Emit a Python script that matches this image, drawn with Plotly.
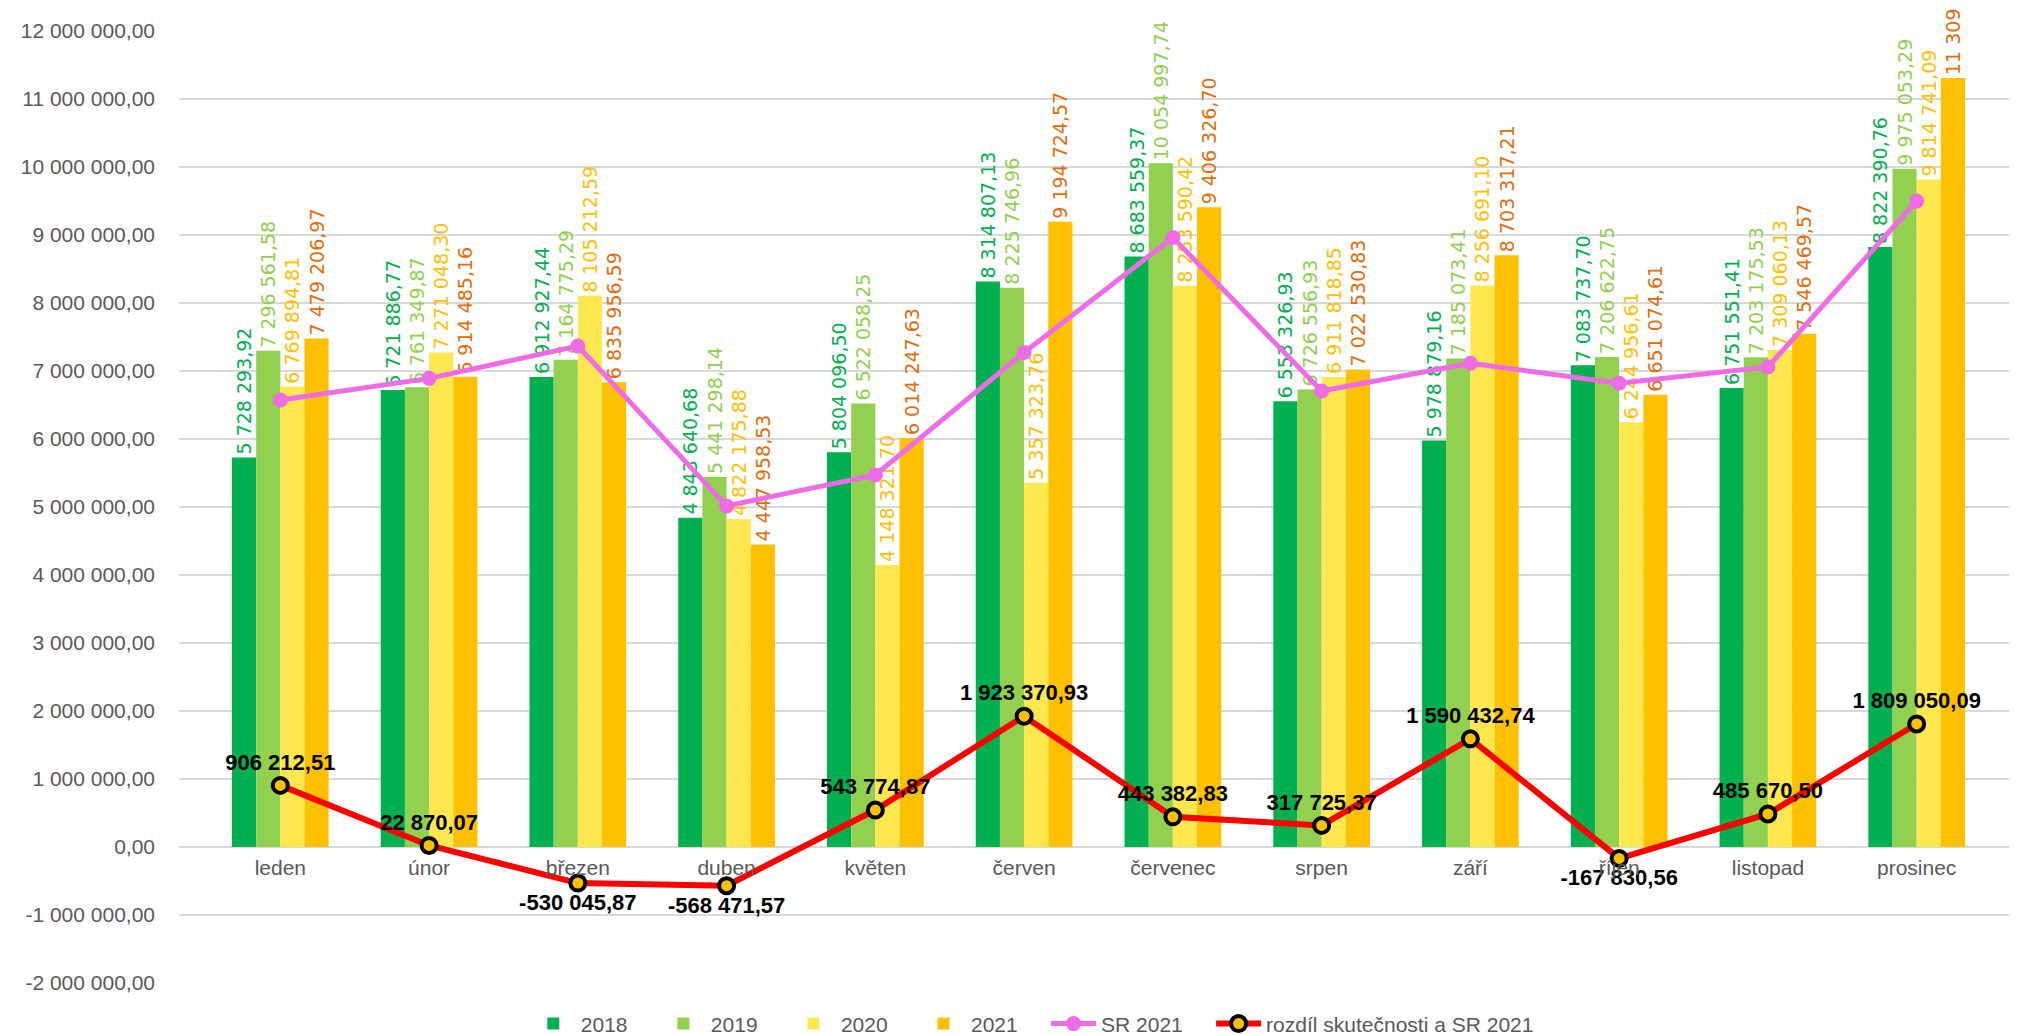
import plotly.graph_objects as go

months = ["leden", "únor", "březen", "duben", "květen", "červen",
          "červenec", "srpen", "září", "říjen", "listopad", "prosinec"]

v2018 = [5728293.92, 6721886.77, 6912927.44, 4843640.68, 5804096.50, 8314807.13,
         8683559.37, 6553326.93, 5978879.16, 7083737.70, 6751551.41, 8822390.76]
v2019 = [7296561.58, 6761349.87, 7164775.29, 5441298.14, 6522058.25, 8225746.96,
         10054997.74, 6726556.93, 7185073.41, 7206622.75, 7203175.53, 9975053.29]
v2020 = [6769894.81, 7271048.30, 8105212.59, 4822175.88, 4148321.70, 5357323.76,
         8253590.42, 6911818.85, 8256691.10, 6244956.61, 7309060.13, 9814741.09]
v2021 = [7479206.97, 6914485.16, 6835956.59, 4447958.53, 6014247.63, 9194724.57,
         9406326.70, 7022530.83, 8703317.21, 6651074.61, 7546469.57, 11309050.09]
sr2021 = [6572994.46, 6891615.09, 7366002.46, 5016430.10, 5470472.76, 7271353.64,
          8962943.87, 6704805.46, 7112884.47, 6818905.17, 7060799.07, 9500000.00]
diff = [906212.51, 22870.07, -530045.87, -568471.57, 543774.87, 1923370.93,
        443382.83, 317725.37, 1590432.74, -167830.56, 485670.50, 1809050.09]

y_ticks = [-2000000, -1000000, 0, 1000000, 2000000, 3000000, 4000000, 5000000,
           6000000, 7000000, 8000000, 9000000, 10000000, 11000000, 12000000]


def fmt(v):
    s = f"{abs(v):,.2f}".replace(",", " ").replace(".", ",")
    return ("-" if v < 0 else "") + s


YMIN, YMAX = -2000000, 12000000
GRAY = "#595959"
PAD = "\u00a0" * 4
fig = go.Figure()

bar_specs = [
    ("2018", v2018, "#00B050", "#00B050"),
    ("2019", v2019, "#92D050", "#92D050"),
    ("2020", v2020, "#FFE84F", "#FFC000"),
    ("2021", v2021, "#FFC000", "#E46C0A"),
]
for name, vals, col, tcol in bar_specs:
    fig.add_trace(go.Bar(
        name=name + PAD, x=months, y=vals, marker=dict(color=col, line=dict(width=0)),
        text=[fmt(v) for v in vals], textposition="outside", textangle=-90,
        textfont=dict(color=tcol, size=19, family="DejaVu Sans"),
        cliponaxis=False, constraintext="none",
    ))

fig.add_trace(go.Scatter(
    name="SR 2021" + PAD, x=months, y=sr2021, mode="lines+markers",
    line=dict(color="#F06BE6", width=5),
    marker=dict(color="#F06BE6", size=15),
))

fig.add_trace(go.Scatter(
    name="rozdíl skutečnosti a SR 2021", x=months, y=diff, mode="lines+markers+text",
    line=dict(color="#FF0000", width=6),
    marker=dict(color="#FFC000", size=15, line=dict(color="black", width=4)),
    text=[fmt(v) for v in diff],
    textposition=["top center" if v >= 0 else "bottom center" for v in diff],
    textfont=dict(color="black", size=22, family="Liberation Sans", weight="bold"),
    cliponaxis=False,
))

fig.update_layout(
    width=2017, height=1035,
    margin=dict(l=171, r=7, t=23, b=60, autoexpand=False),
    paper_bgcolor="white", plot_bgcolor="white",
    barmode="group", bargap=0.35, bargroupgap=0,
    font=dict(family="Liberation Sans", color=GRAY, size=21),
    showlegend=True,
    legend=dict(orientation="h", x=0.464, xanchor="center", y=-0.043, yanchor="middle",
                font=dict(size=21, color=GRAY), itemwidth=45, traceorder="normal",
                bgcolor="rgba(0,0,0,0)"),
    yaxis=dict(range=[YMIN, YMAX], tickvals=y_ticks, ticktext=[fmt(v) for v in y_ticks],
               showgrid=True, gridcolor="#D9D9D9", gridwidth=2,
               zeroline=True, zerolinecolor="#D9D9D9", zerolinewidth=2,
               showline=False, ticks="", ticklabelstandoff=23,
               tickfont=dict(size=21, color=GRAY), automargin=False, fixedrange=True),
    xaxis=dict(anchor="free", position=(0 - YMIN) / (YMAX - YMIN),
               showline=False, showgrid=False, zeroline=False, ticks="",
               ticklabelstandoff=6, tickfont=dict(size=21, color=GRAY),
               automargin=False),
)

fig.write_html("out.html")
